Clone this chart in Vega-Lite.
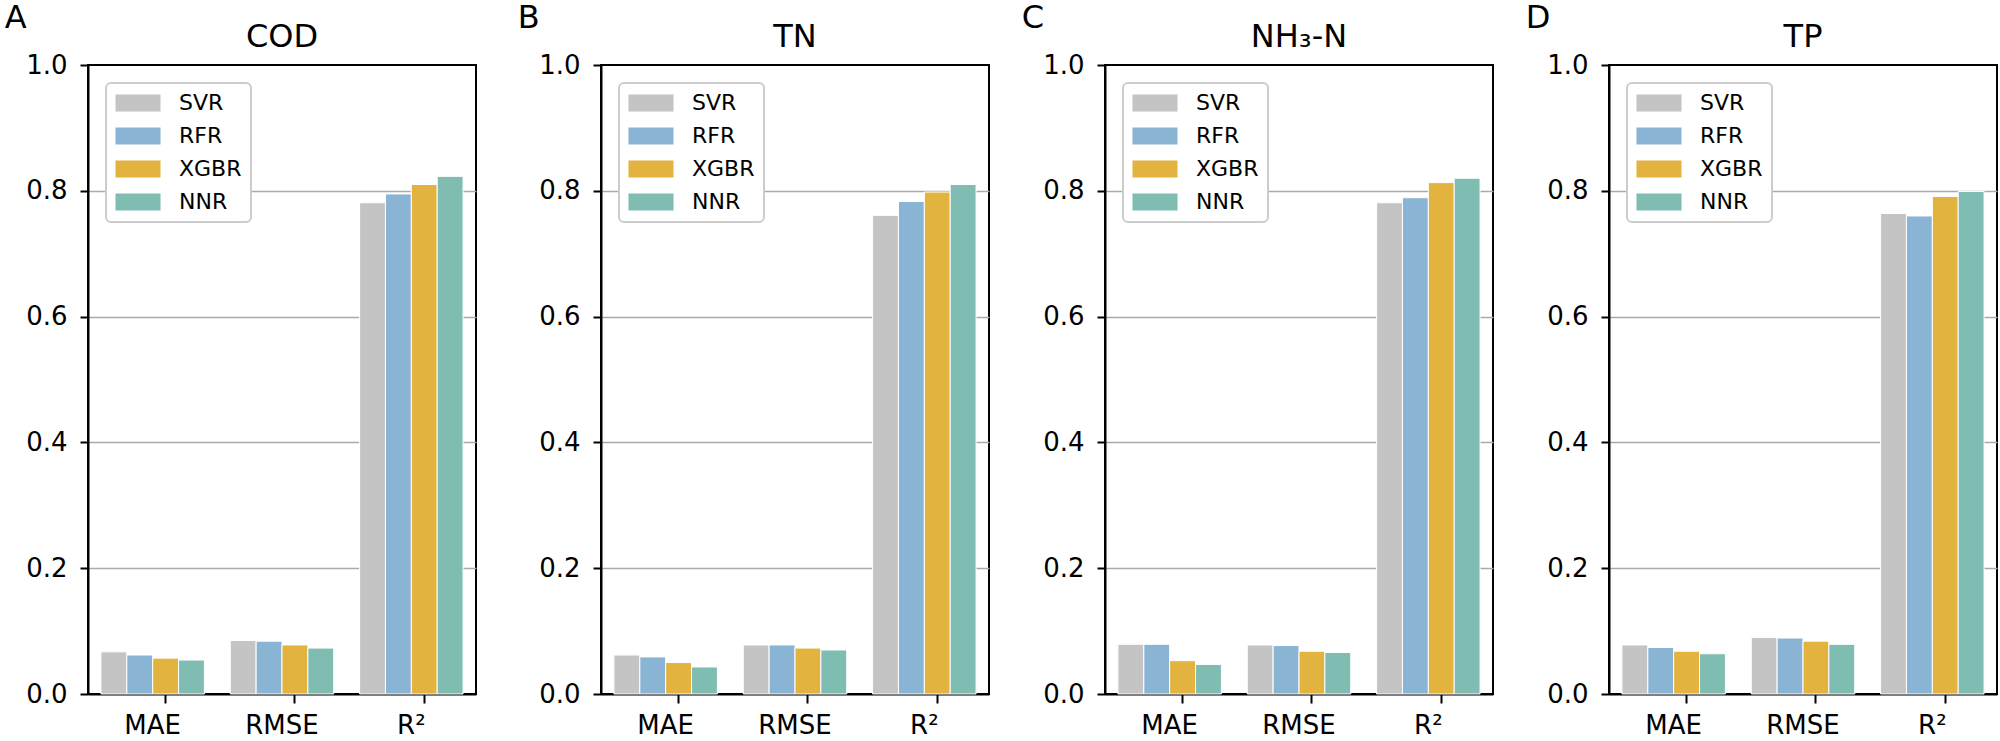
{
  "$schema": "https://vega.github.io/schema/vega-lite/v6.json",
  "padding": {"left": 4, "top": 2, "right": 0, "bottom": 0},
  "data": {"values": [
    {"panel": "A", "metric": "MAE", "model": "SVR", "value": 0.067},
    {"panel": "A", "metric": "MAE", "model": "RFR", "value": 0.062},
    {"panel": "A", "metric": "MAE", "model": "XGBR", "value": 0.057},
    {"panel": "A", "metric": "MAE", "model": "NNR", "value": 0.054},
    {"panel": "A", "metric": "RMSE", "model": "SVR", "value": 0.085},
    {"panel": "A", "metric": "RMSE", "model": "RFR", "value": 0.084},
    {"panel": "A", "metric": "RMSE", "model": "XGBR", "value": 0.078},
    {"panel": "A", "metric": "RMSE", "model": "NNR", "value": 0.073},
    {"panel": "A", "metric": "R²", "model": "SVR", "value": 0.781},
    {"panel": "A", "metric": "R²", "model": "RFR", "value": 0.795},
    {"panel": "A", "metric": "R²", "model": "XGBR", "value": 0.810},
    {"panel": "A", "metric": "R²", "model": "NNR", "value": 0.823},
    {"panel": "B", "metric": "MAE", "model": "SVR", "value": 0.062},
    {"panel": "B", "metric": "MAE", "model": "RFR", "value": 0.059},
    {"panel": "B", "metric": "MAE", "model": "XGBR", "value": 0.050},
    {"panel": "B", "metric": "MAE", "model": "NNR", "value": 0.043},
    {"panel": "B", "metric": "RMSE", "model": "SVR", "value": 0.078},
    {"panel": "B", "metric": "RMSE", "model": "RFR", "value": 0.078},
    {"panel": "B", "metric": "RMSE", "model": "XGBR", "value": 0.073},
    {"panel": "B", "metric": "RMSE", "model": "NNR", "value": 0.070},
    {"panel": "B", "metric": "R²", "model": "SVR", "value": 0.761},
    {"panel": "B", "metric": "R²", "model": "RFR", "value": 0.783},
    {"panel": "B", "metric": "R²", "model": "XGBR", "value": 0.798},
    {"panel": "B", "metric": "R²", "model": "NNR", "value": 0.810},
    {"panel": "C", "metric": "MAE", "model": "SVR", "value": 0.079},
    {"panel": "C", "metric": "MAE", "model": "RFR", "value": 0.079},
    {"panel": "C", "metric": "MAE", "model": "XGBR", "value": 0.053},
    {"panel": "C", "metric": "MAE", "model": "NNR", "value": 0.047},
    {"panel": "C", "metric": "RMSE", "model": "SVR", "value": 0.078},
    {"panel": "C", "metric": "RMSE", "model": "RFR", "value": 0.077},
    {"panel": "C", "metric": "RMSE", "model": "XGBR", "value": 0.068},
    {"panel": "C", "metric": "RMSE", "model": "NNR", "value": 0.066},
    {"panel": "C", "metric": "R²", "model": "SVR", "value": 0.781},
    {"panel": "C", "metric": "R²", "model": "RFR", "value": 0.789},
    {"panel": "C", "metric": "R²", "model": "XGBR", "value": 0.813},
    {"panel": "C", "metric": "R²", "model": "NNR", "value": 0.820},
    {"panel": "D", "metric": "MAE", "model": "SVR", "value": 0.078},
    {"panel": "D", "metric": "MAE", "model": "RFR", "value": 0.074},
    {"panel": "D", "metric": "MAE", "model": "XGBR", "value": 0.068},
    {"panel": "D", "metric": "MAE", "model": "NNR", "value": 0.064},
    {"panel": "D", "metric": "RMSE", "model": "SVR", "value": 0.090},
    {"panel": "D", "metric": "RMSE", "model": "RFR", "value": 0.089},
    {"panel": "D", "metric": "RMSE", "model": "XGBR", "value": 0.084},
    {"panel": "D", "metric": "RMSE", "model": "NNR", "value": 0.079},
    {"panel": "D", "metric": "R²", "model": "SVR", "value": 0.764},
    {"panel": "D", "metric": "R²", "model": "RFR", "value": 0.760},
    {"panel": "D", "metric": "R²", "model": "XGBR", "value": 0.791},
    {"panel": "D", "metric": "R²", "model": "NNR", "value": 0.799}
  ]},
  "spacing": 40,
  "resolve": {"scale": {"color": "independent"}, "legend": {"color": "independent"}},
  "hconcat": [
    {
      "title": {"text": "A", "anchor": "start", "frame": "bounds", "dx": -20, "offset": -15},
      "vconcat": [{
        "width": 388, "height": 629,
        "title": {"text": "COD", "offset": -2},
        "transform": [{"filter": "datum.panel === 'A'"}],
        "mark": {"type": "bar", "stroke": "white", "strokeWidth": 1},
        "encoding": {
          "x": {"field": "metric", "type": "nominal", "sort": ["MAE", "RMSE", "R²"], "title": null, "scale": {"paddingInner": 0.2, "paddingOuter": 0.1}},
          "xOffset": {"field": "model", "type": "nominal", "sort": ["SVR", "RFR", "XGBR", "NNR"], "scale": {"paddingInner": 0, "paddingOuter": 0}},
          "y": {"field": "value", "type": "quantitative", "title": null, "scale": {"domain": [0, 1], "nice": false}, "axis": {"values": [0, 0.2, 0.4, 0.6, 0.8, 1.0], "format": ".1f"}},
          "color": {"field": "model", "type": "nominal", "title": null, "scale": {"domain": ["SVR", "RFR", "XGBR", "NNR"], "range": ["#c4c4c4", "#89b4d4", "#e3b33f", "#7fbdb3"]}}
        }
      }]
    },
    {
      "spacing": 31,
      "resolve": {"scale": {"color": "independent"}, "legend": {"color": "independent"}},
      "hconcat": [
        {
          "title": {"text": "B", "anchor": "start", "frame": "bounds", "dx": -20, "offset": -15},
          "vconcat": [{
            "width": 388, "height": 629,
            "title": {"text": "TN", "offset": -2},
            "transform": [{"filter": "datum.panel === 'B'"}],
            "mark": {"type": "bar", "stroke": "white", "strokeWidth": 1},
            "encoding": {
              "x": {"field": "metric", "type": "nominal", "sort": ["MAE", "RMSE", "R²"], "title": null, "scale": {"paddingInner": 0.2, "paddingOuter": 0.1}},
              "xOffset": {"field": "model", "type": "nominal", "sort": ["SVR", "RFR", "XGBR", "NNR"], "scale": {"paddingInner": 0, "paddingOuter": 0}},
              "y": {"field": "value", "type": "quantitative", "title": null, "scale": {"domain": [0, 1], "nice": false}, "axis": {"values": [0, 0.2, 0.4, 0.6, 0.8, 1.0], "format": ".1f"}},
              "color": {"field": "model", "type": "nominal", "title": null, "scale": {"domain": ["SVR", "RFR", "XGBR", "NNR"], "range": ["#c4c4c4", "#89b4d4", "#e3b33f", "#7fbdb3"]}}
            }
          }]
        },
        {
          "title": {"text": "C", "anchor": "start", "frame": "bounds", "dx": -20, "offset": -15},
          "vconcat": [{
            "width": 388, "height": 629,
            "title": {"text": "NH₃-N", "offset": -2},
            "transform": [{"filter": "datum.panel === 'C'"}],
            "mark": {"type": "bar", "stroke": "white", "strokeWidth": 1},
            "encoding": {
              "x": {"field": "metric", "type": "nominal", "sort": ["MAE", "RMSE", "R²"], "title": null, "scale": {"paddingInner": 0.2, "paddingOuter": 0.1}},
              "xOffset": {"field": "model", "type": "nominal", "sort": ["SVR", "RFR", "XGBR", "NNR"], "scale": {"paddingInner": 0, "paddingOuter": 0}},
              "y": {"field": "value", "type": "quantitative", "title": null, "scale": {"domain": [0, 1], "nice": false}, "axis": {"values": [0, 0.2, 0.4, 0.6, 0.8, 1.0], "format": ".1f"}},
              "color": {"field": "model", "type": "nominal", "title": null, "scale": {"domain": ["SVR", "RFR", "XGBR", "NNR"], "range": ["#c4c4c4", "#89b4d4", "#e3b33f", "#7fbdb3"]}}
            }
          }]
        },
        {
          "title": {"text": "D", "anchor": "start", "frame": "bounds", "dx": -20, "offset": -15},
          "vconcat": [{
            "width": 388, "height": 629,
            "title": {"text": "TP", "offset": -2},
            "transform": [{"filter": "datum.panel === 'D'"}],
            "mark": {"type": "bar", "stroke": "white", "strokeWidth": 1},
            "encoding": {
              "x": {"field": "metric", "type": "nominal", "sort": ["MAE", "RMSE", "R²"], "title": null, "scale": {"paddingInner": 0.2, "paddingOuter": 0.1}},
              "xOffset": {"field": "model", "type": "nominal", "sort": ["SVR", "RFR", "XGBR", "NNR"], "scale": {"paddingInner": 0, "paddingOuter": 0}},
              "y": {"field": "value", "type": "quantitative", "title": null, "scale": {"domain": [0, 1], "nice": false}, "axis": {"values": [0, 0.2, 0.4, 0.6, 0.8, 1.0], "format": ".1f"}},
              "color": {"field": "model", "type": "nominal", "title": null, "scale": {"domain": ["SVR", "RFR", "XGBR", "NNR"], "range": ["#c4c4c4", "#89b4d4", "#e3b33f", "#7fbdb3"]}}
            }
          }]
        }
      ]
    }
  ],
  "config": {
    "font": "DejaVu Sans",
    "view": {"stroke": "black", "strokeWidth": 2},
    "title": {"fontSize": 32, "fontWeight": "normal", "color": "black", "font": "DejaVu Sans"},
    "axis": {"domainColor": "black", "domainWidth": 2, "tickColor": "black", "tickWidth": 2, "labelColor": "black", "labelFontSize": 26, "labelFont": "DejaVu Sans"},
    "axisY": {"grid": true, "gridColor": {"condition": {"test": "datum.value <= 0.001 || datum.value >= 0.999", "value": "transparent"}, "value": "#aaaaaa"}, "gridWidth": 1.5, "tickSize": 8, "labelPadding": 13, "zindex": 1},
    "axisX": {"grid": false, "labelAngle": 0, "tickSize": 9, "labelPadding": 9, "bandPosition": 0.625},
    "legend": {
      "orient": "top-left", "offset": 18, "title": null,
      "fillColor": "white", "strokeColor": "#cccccc", "strokeWidth": 2, "cornerRadius": 5, "padding": 9,
      "labelFontSize": 22, "labelColor": "black", "labelFont": "DejaVu Sans",
      "symbolType": "M-2.65,-1L2.65,-1L2.65,1L-2.65,1Z", "symbolSize": 289, "symbolOffset": 12, "labelOffset": 30,
      "rowPadding": 11, "symbolStrokeWidth": 0, "symbolOpacity": 1
    }
  }
}
